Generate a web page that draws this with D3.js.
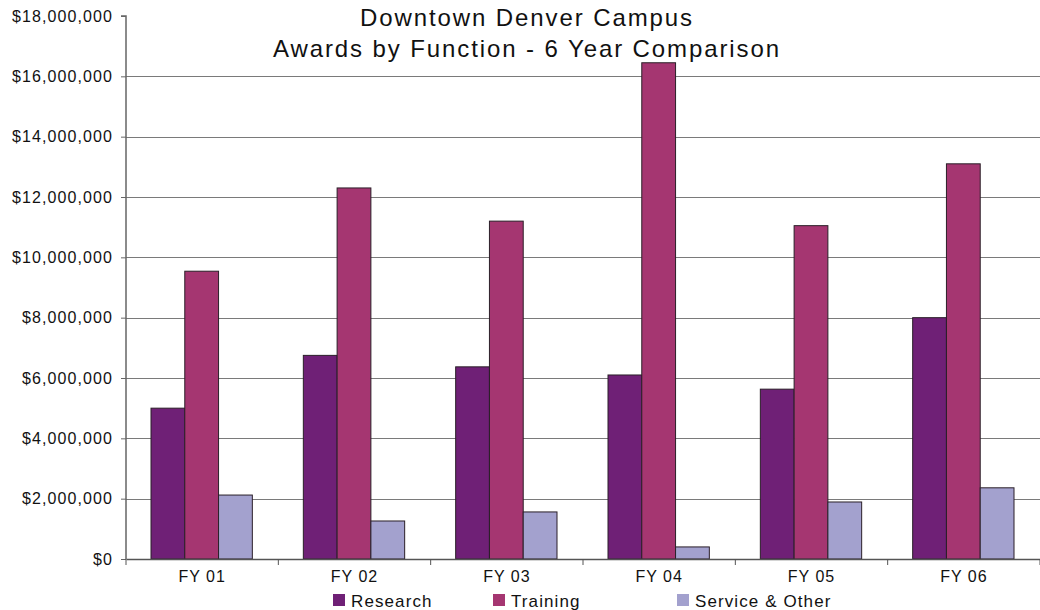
<!DOCTYPE html>
<html>
<head>
<meta charset="utf-8">
<script src="https://cdn.jsdelivr.net/npm/d3@7"></script>
<style>
   body { margin: 0; background: #fff; }
   svg text { font-family: "Liberation Sans", Arial, sans-serif; fill: #111; }
</style>
</head>
<body>
<div class="chart"></div>
<script>
// chart data
const years = ["FY 01", "FY 02", "FY 03", "FY 04", "FY 05", "FY 06"];
const seriesNames = ["Research", "Training", "Service & Other"];
const research = [5000000, 6750000, 6370000, 6100000, 5630000, 8000000];
const training = [9540000, 12300000, 11200000, 16450000, 11050000, 13100000];
const service = [2120000, 1260000, 1560000, 400000, 1890000, 2360000];
const yTicks = [0, 2000000, 4000000, 6000000, 8000000, 10000000, 12000000, 14000000, 16000000, 18000000];
const colors = ["#6F2076", "#A53671", "#A3A1CE"];
const titleLines = ["Downtown Denver Campus", "Awards by Function - 6 Year Comparison"];

// setup chart
const width = 1040;
const height = 610;
const plotLeft = 126;
const plotTop = 16;
const plotBottom = 559;
const plotRight = 1040;

const table = years.map((yr, i) => ({
   year: yr,
   values: [research[i], training[i], service[i]]
}));

const svg = d3.select(".chart")
   .append("svg")
   .attr("width", width)
   .attr("height", height);

const x = d3.scaleBand().domain(years).range([plotLeft, plotRight]);
const inner = d3.scaleBand()
   .domain(seriesNames)
   .range([25, x.bandwidth() - 26]);
const y = d3.scaleLinear().domain([0, 18000000]).range([plotBottom, plotTop]);

// gridlines
svg.append("g")
   .selectAll("line")
   .data(yTicks.filter((t) => t > 0 && t < 18000000))
   .enter()
   .append("line")
   .attr("x1", plotLeft)
   .attr("x2", plotRight)
   .attr("y1", (d) => Math.round(y(d)) + 0.5)
   .attr("y2", (d) => Math.round(y(d)) + 0.5)
   .attr("stroke", "#7a7a7a")
   .attr("stroke-width", 1);

// bars
const groups = svg.append("g")
   .selectAll("g")
   .data(table)
   .enter()
   .append("g")
   .attr("transform", (d) => `translate(${x(d.year)},0)`);

groups.selectAll("rect")
   .data((d) => d.values.map((v, i) => ({ name: seriesNames[i], value: v, i })))
   .enter()
   .append("rect")
   .attr("x", (d) => inner(d.name))
   .attr("width", inner.bandwidth())
   .attr("y", (d) => y(d.value))
   .attr("height", (d) => plotBottom - y(d.value))
   .attr("fill", (d) => colors[d.i])
   .attr("stroke", "#2a1f28")
   .attr("stroke-width", 1);

// y axis
const yAxis = d3.axisLeft(y)
   .tickValues(yTicks)
   .tickSize(5)
   .tickPadding(8)
   .tickFormat((d) => "$" + d3.format(",")(d));

const yg = svg.append("g")
   .attr("transform", `translate(${plotLeft},0)`)
   .call(yAxis);
yg.select(".domain").attr("stroke", "#666").attr("stroke-width", 1.5).attr("d", `M-5,${plotTop}H0V${plotBottom}`);
yg.selectAll(".tick line").attr("stroke", "#666");
yg.selectAll("text")
   .style("font-size", "16px")
   .style("letter-spacing", "1.1px")
   .attr("fill", "#111");

// x axis
const xAxis = d3.axisBottom(x).tickSize(0).tickPadding(12);
const xg = svg.append("g")
   .attr("transform", `translate(0,${plotBottom})`)
   .call(xAxis);
xg.select(".domain").attr("stroke", "#555").attr("stroke-width", 1.5);
xg.selectAll("text")
   .style("font-size", "16px")
   .style("letter-spacing", "1px")
   .attr("fill", "#111");
xg.selectAll(".sep")
   .data(d3.range(years.length + 1))
   .enter()
   .append("line")
   .attr("x1", (i) => plotLeft + i * x.bandwidth())
   .attr("x2", (i) => plotLeft + i * x.bandwidth())
   .attr("y1", 0)
   .attr("y2", 6)
   .attr("stroke", "#555");

// title
svg.append("g")
   .selectAll("text")
   .data(titleLines)
   .enter()
   .append("text")
   .attr("x", 527)
   .attr("y", (d, i) => 26 + i * 31)
   .attr("text-anchor", "middle")
   .style("font-size", "24px")
   .style("letter-spacing", "1.9px")
   .text((d) => d);

// legend
const legendX = [333, 493, 677];
const legend = svg.append("g")
   .selectAll("g")
   .data(seriesNames)
   .enter()
   .append("g")
   .attr("transform", (d, i) => `translate(${legendX[i]},594)`);
legend.append("rect")
   .attr("width", 12)
   .attr("height", 12)
   .attr("fill", (d, i) => colors[i]);
legend.append("text")
   .attr("x", 18)
   .attr("y", 13)
   .style("font-size", "17px")
   .style("letter-spacing", "1.1px")
   .text((d) => d);
</script>
</body>
</html>
